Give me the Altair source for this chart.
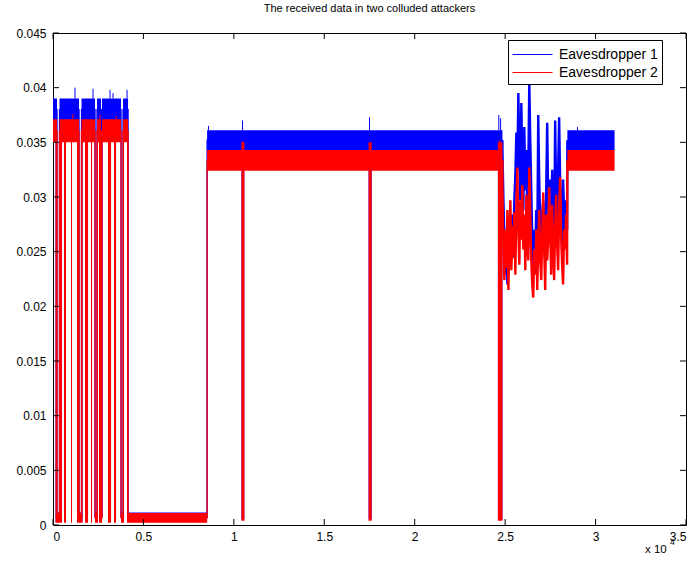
import altair as alt
import pandas as pd

# ---------------- axis ticks ----------------
x_ticks = [0, 5000, 10000, 15000, 20000, 25000, 30000, 35000]
y_ticks = [0, 0.005, 0.01, 0.015, 0.02, 0.025, 0.03, 0.035, 0.04, 0.045]

SERIES = ["Eavesdropper 1", "Eavesdropper 2"]
COLORS = ["#0000ff", "#ff0000"]

# ---------------- signal timeline (sample index) ----------------
# H1/H2: transmitting, L: silent, M1/M2: rapid on/off switching (full swing)
block_start = [0, 138, 221, 360, 498, 609, 719, 996, 1051, 1328, 1439, 1577, 1632,
               1771, 1937, 2103, 2158, 2324, 2435, 2490, 2545, 2656, 2711, 3043,
               3209, 3375, 3486, 3762, 3873, 3928, 4094, 4150, 8521, 10420, 10580,
               17450, 17620, 24600, 28440]
block_end = [138, 221, 360, 498, 609, 719, 996, 1051, 1328, 1439, 1577, 1632, 1771,
             1937, 2103, 2158, 2324, 2435, 2490, 2545, 2656, 2711, 3043, 3209,
             3375, 3486, 3762, 3873, 3928, 4094, 4150, 8521, 10420, 10580, 17450,
             17620, 24600, 24850, 31050]
block_state = ["H1", "M1", "L", "M1", "H1", "M1", "H1", "M1", "H1", "M1", "L", "M1", "H1",
               "M1", "H1", "M1", "H1", "L", "M1", "H1", "M1", "L", "H1", "M1",
               "H1", "M1", "H1", "L", "M1", "H1", "M1", "L", "H2", "M2", "H2",
               "M2", "H2", "M2", "H2"]
# the last block comes after the unstable stretch
block_part = [0] * 38 + [1]

# noise band (low, high) of every state
band_e1 = {"H1": (0.0370, 0.0390), "L": (0.0003, 0.00115), "M1": (0.0003, 0.0390),
           "H2": (0.0343, 0.0361), "M2": (0.0005, 0.0361)}
band_e2 = {"H1": (0.0350, 0.0371), "L": (0.0002, 0.0011), "M1": (0.0002, 0.0371),
           "H2": (0.0324, 0.0343), "M2": (0.0004, 0.0350)}

# unstable stretch, one sample every 55
unstable_x = list(range(24850, 28430, 55))
unstable_e1 = [0.0343, 0.0297, 0.0261, 0.0229, 0.0270, 0.0220, 0.0256, 0.0238, 0.0274,
               0.0252, 0.0284, 0.0261, 0.0297, 0.0320, 0.0359, 0.0325, 0.0395, 0.0343,
               0.0297, 0.0386, 0.0334, 0.0288, 0.0364, 0.0306, 0.0343, 0.0284, 0.0325,
               0.0405, 0.0352, 0.0306, 0.0261, 0.0233, 0.0270, 0.0247, 0.0288, 0.0252,
               0.0375, 0.0316, 0.0274, 0.0247, 0.0284, 0.0297, 0.0261, 0.0242, 0.0306,
               0.0368, 0.0297, 0.0261, 0.0316, 0.0274, 0.0325, 0.0284, 0.0256, 0.0370,
               0.0306, 0.0270, 0.0325, 0.0373, 0.0316, 0.0279, 0.0252, 0.0316, 0.0288,
               0.0261, 0.0297, 0.0270]
unstable_e2 = [0.0306, 0.0252, 0.0224, 0.0270, 0.0235, 0.0288, 0.0215, 0.0261, 0.0297,
               0.0233, 0.0274, 0.0244, 0.0286, 0.0229, 0.0293, 0.0327, 0.0270, 0.0238,
               0.0297, 0.0261, 0.0311, 0.0252, 0.0284, 0.0233, 0.0302, 0.0256, 0.0242,
               0.0327, 0.0284, 0.0242, 0.0220, 0.0208, 0.0252, 0.0229, 0.0270, 0.0215,
               0.0256, 0.0288, 0.0242, 0.0224, 0.0265, 0.0304, 0.0252, 0.0215, 0.0284,
               0.0242, 0.0261, 0.0309, 0.0270, 0.0229, 0.0293, 0.0252, 0.0224, 0.0274,
               0.0302, 0.0256, 0.0233, 0.0284, 0.0318, 0.0265, 0.0238, 0.0220, 0.0270,
               0.0252, 0.0284, 0.0238]

# isolated peaks above the band
spike_x_e1 = [1217, 2213, 3154, 3320, 4094, 8600, 10480, 17500, 24650, 24750, 29000]
spike_y_e1 = [0.0400, 0.0399, 0.0398, 0.0395, 0.0398, 0.0365, 0.0370, 0.0373, 0.0375,
              0.0372, 0.0364]
spike_x_e2 = [1100, 2600, 3500, 10480, 17520, 24700]
spike_y_e2 = [0.0376, 0.0375, 0.0374, 0.0351, 0.0349, 0.0352]


def mid_of(band, st):
    key = "H1" if st == "M1" else ("H2" if st == "M2" else st)
    return band[key]


def build(name, band, ux, uy, sx, sy):
    area_rows, line_rows, wild_rows, spike_rows = [], [], [], []
    for s, e, st, p in zip(block_start, block_end, block_state, block_part):
        lo, hi = band[st]
        mid = sum(mid_of(band, st)) / 2
        for x in (s, e):
            area_rows.append({"series": name, "part": p, "x": x, "lo": lo, "hi": hi})
            if p == 0:
                line_rows.append({"series": name, "x": x, "v": mid})
        if p == 0 and e == block_end[-2]:
            wild_rows.append({"series": name, "x": e, "v": mid})
            for x, v in zip(ux, uy):
                wild_rows.append({"series": name, "x": x, "v": v})
        if p == 1:
            wild_rows.append({"series": name, "x": s, "v": mid})
    for x, v in zip(sx, sy):
        for s, e, st in zip(block_start, block_end, block_state):
            if s <= x <= e:
                base = mid_of(band, st)[1]
                break
        spike_rows.append({"series": name, "x": x, "top": v, "base": base})
    return (pd.DataFrame(area_rows), pd.DataFrame(line_rows),
            pd.DataFrame(wild_rows), pd.DataFrame(spike_rows))


a1, l1, w1, s1 = build(SERIES[0], band_e1, unstable_x, unstable_e1, spike_x_e1, spike_y_e1)
a2, l2, w2, s2 = build(SERIES[1], band_e2, unstable_x, unstable_e2, spike_x_e2, spike_y_e2)

W, H = 633, 492
FONT = "Liberation Sans"
xs = alt.Scale(domain=[0, 35000], nice=False, zero=False)
ys = alt.Scale(domain=[0, 0.045], nice=False)
x_axis = alt.Axis(values=x_ticks, labelExpr="format(datum.value / 10000, '~g')",
                  ticks=False, domain=False, grid=False, labelPadding=6, title=None)
y_axis = alt.Axis(values=y_ticks, format="~g", ticks=False, domain=False, grid=False,
                  labelPadding=7, title=None)


def band_layer(df, c):
    return alt.Chart(df).mark_area(color=c, opacity=1, strokeWidth=0).encode(
        x=alt.X("x:Q", scale=xs, axis=x_axis),
        y=alt.Y("lo:Q", scale=ys, axis=y_axis),
        y2="hi:Q",
        detail="part:N",
    )


def trace_layer(df, width, c):
    return alt.Chart(df).mark_line(strokeWidth=width, color=c,
                                   interpolate="linear").encode(
        x=alt.X("x:Q", scale=xs, axis=x_axis),
        y=alt.Y("v:Q", scale=ys, axis=y_axis),
        order="idx:Q",
    ).transform_window(idx="row_number()")


def spike_layer(df, c):
    return alt.Chart(df).mark_rule(color=c, strokeWidth=1).encode(
        x=alt.X("x:Q", scale=xs, axis=x_axis),
        y=alt.Y("top:Q", scale=ys, axis=y_axis),
        y2="base:Q",
    )


# legend carrier: one zero-length line per receiver, only the key is seen
key_df = pd.DataFrame({"series": SERIES, "x": [0, 0], "v": [0, 0]})
legend_layer = alt.Chart(key_df).mark_line(strokeWidth=1).encode(
    x=alt.X("x:Q", scale=xs, axis=x_axis),
    y=alt.Y("v:Q", scale=ys, axis=y_axis),
    color=alt.Color("series:N", scale=alt.Scale(domain=SERIES, range=COLORS),
                    legend=alt.Legend(title=None, orient="none", legendX=455, legendY=7,
                                      symbolType="M-1,0H3", symbolSize=400,
                                      symbolStrokeWidth=1, labelFont=FONT,
                                      labelFontSize=14, labelColor="black",
                                      strokeColor="black", fillColor="white",
                                      padding=4, rowPadding=0, labelOffset=26)),
)

# inward ticks on all four sides of the box
xt = pd.DataFrame({"t": x_ticks})
yt = pd.DataFrame({"t": y_ticks})
TL = 6
tick_layers = [
    alt.Chart(xt).mark_rule(color="black").encode(
        x=alt.X("t:Q", scale=xs, axis=x_axis), y=alt.value(H - TL), y2=alt.value(H)),
    alt.Chart(xt).mark_rule(color="black").encode(
        x=alt.X("t:Q", scale=xs, axis=x_axis), y=alt.value(0), y2=alt.value(TL)),
    alt.Chart(yt).mark_rule(color="black").encode(
        y=alt.Y("t:Q", scale=ys, axis=y_axis), x=alt.value(0), x2=alt.value(TL)),
    alt.Chart(yt).mark_rule(color="black").encode(
        y=alt.Y("t:Q", scale=ys, axis=y_axis), x=alt.value(W - TL), x2=alt.value(W)),
]

one = pd.DataFrame({"k": [0]})
exp_base = alt.Chart(one).mark_text(text="x 10", font=FONT, fontSize=11.5, align="left",
                                    baseline="alphabetic", color="black").encode(
    x=alt.value(592), y=alt.value(520))
exp_pow = alt.Chart(one).mark_text(text="4", font=FONT, fontSize=8.5, align="left",
                                   baseline="alphabetic", color="black").encode(
    x=alt.value(617), y=alt.value(512))

chart = alt.layer(
    band_layer(a1, COLORS[0]), trace_layer(l1, 1.3, COLORS[0]),
    trace_layer(w1, 2.4, COLORS[0]), spike_layer(s1, COLORS[0]),
    band_layer(a2, COLORS[1]), trace_layer(l2, 1.3, COLORS[1]),
    trace_layer(w2, 2.4, COLORS[1]), spike_layer(s2, COLORS[1]),
    legend_layer, *tick_layers, exp_base, exp_pow,
).properties(
    width=W, height=H,
    title=alt.Title("The received data in two colluded attackers", font=FONT,
                    fontSize=11, fontWeight="normal", color="black", offset=13,
                    anchor="middle"),
    padding={"left": 53, "top": 33, "right": 4, "bottom": 47},
    autosize=alt.AutoSizeParams(type="none"),
).configure_view(stroke="black", strokeWidth=1).configure_axis(
    labelFont=FONT, labelFontSize=12, labelColor="black"
)

chart.save("out.html", embed_options={"renderer": "svg", "actions": False})
